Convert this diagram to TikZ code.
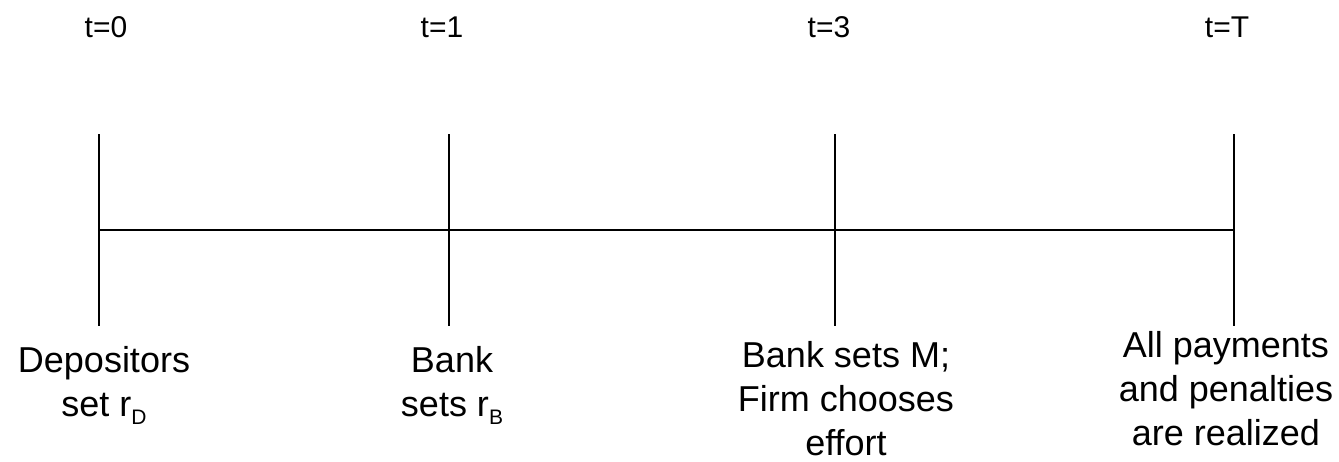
\documentclass[tikz,border=0pt]{standalone}
\usepackage{fontspec}
\setmainfont{Liberation Sans}
\newcommand{\sbx}[1]{\raisebox{-8pt}{\fontsize{21}{21}\selectfont #1}}
\begin{document}
\begin{tikzpicture}[x=1pt,y=-1pt,
  axis/.style={line width=1.8pt,black},
  toplabel/.style={anchor=base,inner sep=0pt,font=\fontsize{30}{35}\selectfont},
  eventlabel/.style={anchor=base,inner sep=0pt,align=center,font=\fontsize{36}{44}\selectfont}]
\useasboundingbox (0,0) rectangle (1339,461);
% ticks
\coordinate (s) at (99,230);
\coordinate (e) at (1234,230);
\coordinate (t0a) at (99,134);  \coordinate (t0b) at (99,326);
\coordinate (t1a) at (449,134); \coordinate (t1b) at (449,326);
\coordinate (t3a) at (835,134); \coordinate (t3b) at (835,326);
\coordinate (tTa) at (1234,134);\coordinate (tTb) at (1234,326);
\draw[axis] (s) -- (e);
\draw[axis] (t0a) -- (t0b);
\draw[axis] (t1a) -- (t1b);
\draw[axis] (t3a) -- (t3b);
\draw[axis] (tTa) -- (tTb);
% top labels
\node[toplabel] (l0) at (106,37) {t=0};
\node[toplabel] (l1) at (442,37) {t=1};
\node[toplabel] (l3) at (829,37) {t=3};
\node[toplabel] (lT) at (1227,37) {t=T};
% event labels (base = baseline of last line)
\node[eventlabel] (e0) at (104,416) {Depositors\\set r\sbx{D}};
\node[eventlabel] (e1) at (452,416) {Bank\\sets r\sbx{B}};
\node[eventlabel] (e3) at (846,455) {Bank sets M;\\Firm chooses\\effort};
\node[eventlabel] (eT) at (1226,445) {All payments\\and penalties\\are realized};
\end{tikzpicture}
\end{document}
